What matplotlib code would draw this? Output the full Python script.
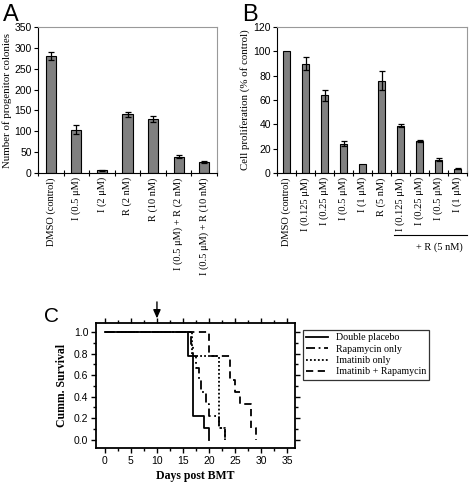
import matplotlib
matplotlib.use("Agg")
import matplotlib.pyplot as plt
import numpy as np

SERIF = "Liberation Serif"
SANS = "Liberation Sans"
plt.rcParams["font.family"] = SANS

# ---- panel A: colony counts
a_labels = ["DMSO (control)", "I (0.5 \u03bcM)", "I (2 \u03bcM)", "R (2 nM)", "R (10 nM)",
            "I (0.5 \u03bcM) + R (2 nM)", "I (0.5 \u03bcM) + R (10 nM)"]
a_vals = [280, 104, 6, 141, 129, 39, 26]
a_err = [10, 10, 2, 6, 7, 3, 3]

# ---- panel B: proliferation
b_labels = ["DMSO (control)", "I (0.125 \u03bcM)", "I (0.25 \u03bcM)", "I (0.5 \u03bcM)", "I (1 \u03bcM)",
            "R (5 nM)", "I (0.125 \u03bcM)", "I (0.25 \u03bcM)", "I (0.5 \u03bcM)", "I (1 \u03bcM)"]
b_vals = [100, 90, 64, 24, 7.4, 76, 39, 26.5, 11, 3.5]
b_err = [0, 5, 4.6, 2, 0, 8, 1.6, 1, 1, 0.5]

# ---- panel C: survival curves (step, post)
placebo_t = [0, 16, 17, 19, 20]
placebo_s = [1.0, 0.778, 0.222, 0.111, 0.0]
rapa_t = [0, 16.5, 17, 17.5, 18, 18.5, 19.5, 20, 22, 23]
rapa_s = [1.0, 0.889, 0.778, 0.667, 0.556, 0.444, 0.333, 0.222, 0.111, 0.0]
imat_t = [0, 16.8, 22, 23]
imat_s = [1.0, 0.778, 0.111, 0.0]
combo_t = [0, 20, 24, 25, 26, 28, 29]
combo_s = [1.0, 0.778, 0.556, 0.444, 0.333, 0.111, 0.0]

W, H = 474, 482
fig = plt.figure(figsize=(W / 100, H / 100), dpi=100)


def px_axes(left, top, right, bottom):
    return fig.add_axes([left / W, 1 - bottom / H, (right - left) / W, (bottom - top) / H])


def bar_panel(ax, vals, err, labels, ymax, ystep, ylabel):
    x = np.arange(len(vals))
    ax.bar(x, vals, width=0.4, color="#808080", edgecolor="black", linewidth=0.8, zorder=2)
    e = [v if v > 0 else np.nan for v in err]
    ax.errorbar(x, vals, yerr=e, fmt="none", ecolor="black", elinewidth=0.9,
                capsize=2.2, capthick=0.9, zorder=3)
    ax.set_xlim(-0.5, len(vals) - 0.5)
    ax.set_ylim(0, ymax)
    ax.set_yticks(np.arange(0, ymax + 1, ystep))
    ax.set_xticks(x)
    ax.set_xticklabels(labels, rotation=90, family=SERIF, fontsize=7.5)
    ax.set_xticks(np.arange(-0.5, len(vals), 1), minor=True)
    ax.tick_params(axis="x", which="major", length=0, pad=3)
    ax.tick_params(axis="x", which="minor", direction="inout", length=4, width=0.8)
    ax.tick_params(axis="y", direction="out", length=3, width=0.8, labelsize=7.5, pad=1.5)
    for s in ["top", "right"]:
        ax.spines[s].set_color("#999999")
        ax.spines[s].set_linewidth(0.8)
    for s in ["left", "bottom"]:
        ax.spines[s].set_linewidth(0.8)
    ax.set_ylabel(ylabel, family=SERIF, fontsize=7.8, labelpad=2)


axA = px_axes(38, 27, 217, 173)
bar_panel(axA, a_vals, a_err, a_labels, 350, 50, "Number of progenitor colonies")
fig.text(3 / W, 1 - 21 / H, "A", fontsize=17, family=SANS)

axB = px_axes(277, 27, 467, 173)
bar_panel(axB, b_vals, b_err, b_labels, 120, 20, "Cell proliferation (% of control)")
fig.text(242 / W, 1 - 21 / H, "B", fontsize=17, family=SANS)
fig.add_artist(plt.Line2D([394 / W, 467 / W], [1 - 235 / H, 1 - 235 / H],
                          color="black", lw=0.8, transform=fig.transFigure))
fig.text(439 / W, 1 - 247 / H, "+ R (5 nM)", family=SERIF, fontsize=7.5, ha="center", va="center")

# ---- panel C
axC = px_axes(96, 323, 295, 448)
axC.step(placebo_t, placebo_s, where="post", color="black", lw=1.3, label="Double placebo")
axC.step(rapa_t, rapa_s, where="post", color="black", lw=1.3, dashes=[5, 2, 1, 2],
         label="Rapamycin only")
axC.step(imat_t, imat_s, where="post", color="black", lw=1.3, dashes=[1, 1.2],
         label="Imatinib only")
axC.step(combo_t, combo_s, where="post", color="black", lw=1.3, dashes=[4, 2.5],
         label="Imatinib + Rapamycin")
axC.set_xlim(-1.7, 36.5)
axC.set_ylim(-0.078, 1.084)
axC.set_xticks(np.arange(0, 36, 5))
axC.set_xticks(np.arange(0, 36, 2.5), minor=True)
axC.set_yticks(np.arange(0, 1.01, 0.2))
axC.set_yticks(np.arange(0, 1.01, 0.1), minor=True)
axC.yaxis.set_major_formatter(matplotlib.ticker.FormatStrFormatter("%.1f"))
axC.tick_params(which="both", direction="out", top=True, right=True, width=1.0,
                labelsize=7.5, pad=2)
axC.tick_params(which="major", length=3.5)
axC.tick_params(which="minor", length=2.2)
for s in axC.spines.values():
    s.set_linewidth(1.3)
axC.set_xlabel("Days post BMT", family=SERIF, fontweight="bold", fontsize=8.5, labelpad=3)
axC.set_ylabel("Cumm. Survival", family=SERIF, fontweight="bold", fontsize=8.5, labelpad=4)
axC.annotate("", xy=(10, 1.127), xytext=(10, 1.28), xycoords="data", annotation_clip=False,
             arrowprops=dict(arrowstyle="-|>,head_length=0.5,head_width=0.22",
                             color="black", lw=1.0, shrinkA=0, shrinkB=0))
fig.text(44 / W, 1 - 322 / H, "C", fontsize=15, family=SANS)

leg = axC.legend(loc="upper left", bbox_to_anchor=(303 / W, 1 - 330 / H),
                 bbox_transform=fig.transFigure, prop=dict(family=SERIF, size=7.2),
                 frameon=True, fancybox=False, edgecolor="black", handlelength=2.2,
                 borderpad=0.3, labelspacing=0.25, handletextpad=0.8, borderaxespad=0)
leg.get_frame().set_linewidth(0.9)

fig.savefig("out.png", dpi=100, facecolor="white")
